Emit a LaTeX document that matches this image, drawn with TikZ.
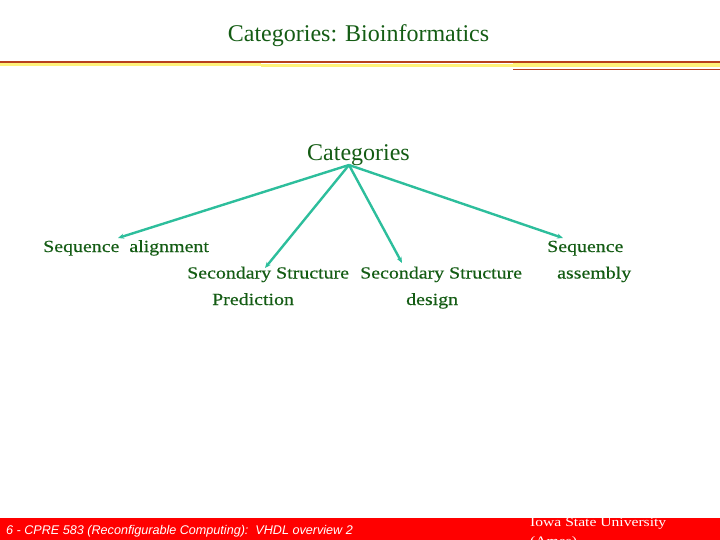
\documentclass[tikz,border=0pt]{standalone}
\usepackage{fontspec}
\setmainfont{Liberation Serif}
\setsansfont{Liberation Sans}
\newfontfamily\widefont[FakeStretch=1.17,FakeBold=0.4]{Liberation Serif}
\newfontfamily\isufont[FakeStretch=1.2]{Liberation Serif}
\usetikzlibrary{arrows.meta,positioning}
\definecolor{textgreen}{HTML}{145C14}
\definecolor{lineteal}{HTML}{2DBE9C}
\definecolor{rulered}{HTML}{B8401C}
\definecolor{ruleyellow}{HTML}{FFF27A}
\definecolor{footred}{HTML}{FF0000}

\begin{document}
\begin{tikzpicture}[x=1pt,y=-1pt,
  lbl/.style={font=\widefont\fontsize{17}{20}\selectfont,textgreen,inner sep=0,anchor=base west},
  link/.style={lineteal,line width=2.4pt,-{Stealth[length=6pt,width=5pt]}}]
  \useasboundingbox (0,0) rectangle (720,540);
  % header rules
  \fill[ruleyellow] (0,63) rectangle (261,66);
  \fill[ruleyellow] (261,64) rectangle (513,67.5);
  \fill[ruleyellow] (513,63) rectangle (720,67);
  \draw[rulered,line width=2.2pt] (0,62)--(720,62);
  \draw[rulered,line width=1pt] (513,69.5)--(720,69.5);
  \node[font=\fontsize{24}{28}\selectfont,textgreen,inner sep=0,anchor=base] (title) at (358.5,41.7){Categories: Bioinformatics};
  % tree
  \node[font=\fontsize{24}{28}\selectfont,textgreen,inner sep=0,anchor=base] (cat) at (358.5,161){Categories};
  \coordinate (hub) at (349,165);
  \node[lbl] (seqal) at (43,252){Sequence\ \ alignment};
  \node[lbl] (sspred) at (187,278.5){Secondary Structure};
  \node[lbl] (pred) at (212,305){Prediction};
  \node[lbl] (ssdes) at (360,278.5){Secondary Structure};
  \node[lbl] (design) at (406,305){design};
  \node[lbl] (seqas) at (547,252){Sequence};
  \node[lbl] (assem) at (557,278.5){assembly};
  \coordinate (e1) at (118,238);
  \coordinate (e2) at (265,268);
  \coordinate (e3) at (402,263);
  \coordinate (e4) at (563,238);
  \draw[link] (hub)--(e1);
  \draw[link] (hub)--(e2);
  \draw[link] (hub)--(e3);
  \draw[link] (hub)--(e4);
  % footer
  \fill[footred] (0,518) rectangle (720,540);
  \node[font=\sffamily\itshape\fontsize{12.6}{14}\selectfont,white,inner sep=0,anchor=base west] (foot) at (6,534.5){6 - CPRE 583 (Reconfigurable Computing):\ \ VHDL overview 2};
  \begin{scope}
    \clip (0,0) rectangle (720,540);
    \node[font=\isufont\fontsize{13}{15}\selectfont,white,inner sep=0,anchor=base west] (isu) at (530,526.7){Iowa State University};
    \node[font=\isufont\fontsize{13}{15}\selectfont,white,inner sep=0,anchor=base west] (ames) at (530,545){(Ames)};
  \end{scope}
\end{tikzpicture}
\end{document}
